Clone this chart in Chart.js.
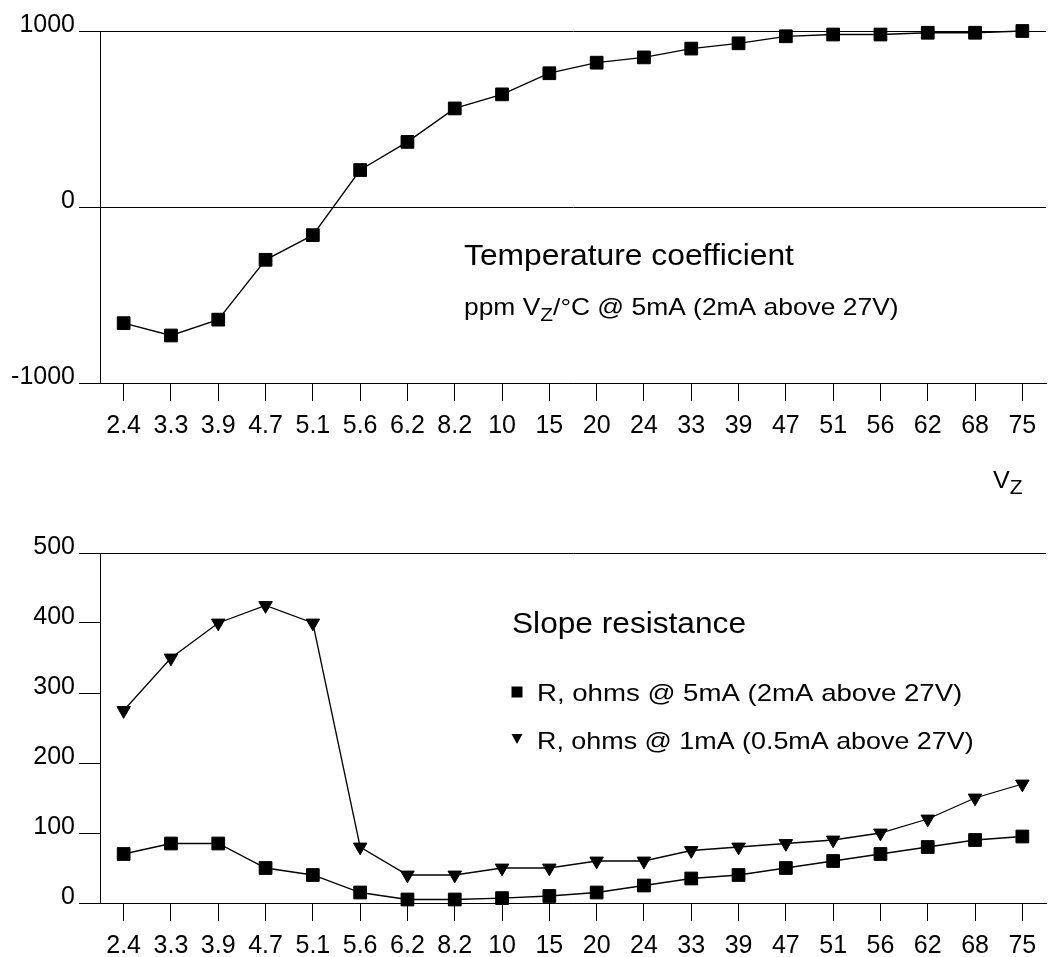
<!DOCTYPE html>
<html>
<head>
<meta charset="utf-8">
<script src="https://cdn.jsdelivr.net/npm/chart.js@4.4.1/dist/chart.umd.min.js"></script>
<style>
html, body { margin: 0; padding: 0; background: #fff; }
#wrap { position: relative; width: 1062px; height: 957px; }
canvas { position: absolute; left: 0; }
#tcChart { top: 0; }
#srChart { top: 500px; }
</style>
</head>
<body>
<div id="wrap">
  <canvas id="tcChart" width="1062" height="500"></canvas>
  <canvas id="srChart" width="1062" height="457"></canvas>
</div>
<script>
const categories = ['2.4', '3.3', '3.9', '4.7', '5.1', '5.6', '6.2', '8.2', '10', '15',
                    '20', '24', '33', '39', '47', '51', '56', '62', '68', '75'];

// temperature coefficient, ppm Vz/°C
const tempCoeff = [-660, -730, -640, -300, -160, 210, 370, 560, 640, 760,
                   820, 850, 900, 930, 970, 980, 980, 990, 990, 1000];

// slope resistance, ohms
const slope5mA = [70, 85, 85, 50, 40, 15, 5, 5, 7, 10,
                  15, 25, 35, 40, 50, 60, 70, 80, 90, 95];
const slope1mA = [275, 350, 400, 425, 400, 80, 40, 40, 50, 50,
                  60, 60, 75, 80, 85, 90, 100, 120, 150, 170];

const tcTicks = [-1000, 0, 1000];
const srTicks = [0, 100, 200, 300, 400, 500];

const FONT = '"Liberation Sans", Arial, Helvetica, sans-serif';

Chart.defaults.font.family = FONT;
Chart.defaults.color = '#000';

// draw text a little wider, like the original artwork
function wideText(ctx, text, x, y, size, sx) {
    ctx.save();
    ctx.font = size + 'px ' + FONT;
    ctx.translate(x, y);
    ctx.scale(sx, 1);
    ctx.fillText(text, 0, 0);
    const w = ctx.measureText(text).width * sx;
    ctx.restore();
    return w;
}

function xScale(height, padding) {
    return {
        type: 'category',
        offset: true,
        afterFit: (scale) => { scale.height = height; },
        grid: {
            offset: false,
            drawOnChartArea: false,
            drawTicks: true,
            tickLength: 18,
            tickColor: '#000',
            lineWidth: 1
        },
        border: { display: true, color: '#000', width: 1 },
        ticks: {
            color: '#000',
            padding: padding,
            maxRotation: 0,
            autoSkip: false,
            font: { size: 25 }
        }
    };
}

function yScale(min, max, tickValues, fullLines) {
    return {
        min: min,
        max: max,
        afterFit: (scale) => { scale.width = 100; },
        afterBuildTicks: (scale) => {
            scale.ticks = tickValues.map(v => ({ value: v }));
        },
        grid: {
            drawTicks: true,
            tickLength: 21,
            tickColor: '#000',
            lineWidth: 1,
            color: (ctx) => fullLines.includes(ctx.tick && ctx.tick.value) ? '#000' : 'rgba(0,0,0,0)'
        },
        border: { display: true, color: '#000', width: 1 },
        ticks: {
            color: '#000',
            padding: 4,
            labelOffset: -6,
            font: { size: 25 },
            callback: (value) => String(value)
        }
    };
}

const tcLabels = {
    id: 'tcLabels',
    afterDraw(chart) {
        const ctx = chart.ctx;
        ctx.save();
        ctx.fillStyle = '#000';
        ctx.textBaseline = 'alphabetic';
        ctx.textAlign = 'left';
        wideText(ctx, 'Temperature coefficient', 464, 265, 30, 1.06);

        let x = 464;
        x += wideText(ctx, 'ppm V', x, 315, 24, 1.1);
        x += wideText(ctx, 'Z', x, 321, 19, 1.1);
        wideText(ctx, '/\u00B0C @ 5mA (2mA above 27V)', x, 315, 24, 1.1);

        let vx = 993;
        vx += wideText(ctx, 'V', vx, 488, 24, 1.05);
        wideText(ctx, 'Z', vx, 494, 20, 1.05);
        ctx.restore();
    }
};

const srLabels = {
    id: 'srLabels',
    afterDraw(chart) {
        const ctx = chart.ctx;
        const oy = 500;
        ctx.save();
        ctx.fillStyle = '#000';
        ctx.textBaseline = 'alphabetic';
        ctx.textAlign = 'left';
        wideText(ctx, 'Slope resistance', 512, 633 - oy, 30, 1.055);

        // legend symbols
        ctx.fillRect(511.5, 686.5 - oy, 11, 11);
        ctx.beginPath();
        ctx.moveTo(511.5, 734 - oy);
        ctx.lineTo(522.5, 734 - oy);
        ctx.lineTo(517, 744 - oy);
        ctx.closePath();
        ctx.fill();

        wideText(ctx, 'R, ohms @ 5mA (2mA above 27V)', 537, 701 - oy, 24, 1.15);
        wideText(ctx, 'R, ohms @ 1mA (0.5mA above 27V)', 537, 749 - oy, 24, 1.12);
        ctx.restore();
    }
};

function seriesStyle(style, radius, rotation) {
    return {
        borderColor: '#000',
        borderWidth: 1.3,
        backgroundColor: '#000',
        pointStyle: style,
        pointRadius: radius,
        pointRotation: rotation,
        pointBorderWidth: 1,
        pointBorderColor: '#000',
        pointBackgroundColor: '#000',
        tension: 0,
        clip: false
    };
}

new Chart(document.getElementById('tcChart'), {
    type: 'line',
    data: {
        labels: categories,
        datasets: [{
            label: 'ppm Vz/°C @ 5mA (2mA above 27V)',
            data: tempCoeff,
            ...seriesStyle('rect', 9, 0)
        }]
    },
    options: {
        responsive: false,
        animation: false,
        devicePixelRatio: 1,
        layout: { padding: { top: 31, left: 0, right: 16, bottom: 57 } },
        plugins: {
            legend: { display: false },
            tooltip: { enabled: false }
        },
        scales: {
            x: xScale(60, 10),
            y: yScale(-1000, 1000, tcTicks, [1000, 0, -1000])
        }
    },
    plugins: [tcLabels]
});

new Chart(document.getElementById('srChart'), {
    type: 'line',
    data: {
        labels: categories,
        datasets: [{
            label: 'R, ohms @ 5mA (2mA above 27V)',
            data: slope5mA,
            ...seriesStyle('rect', 9, 0)
        }, {
            label: 'R, ohms @ 1mA (0.5mA above 27V)',
            data: slope1mA,
            ...seriesStyle('triangle', 7.8, 180)
        }]
    },
    options: {
        responsive: false,
        animation: false,
        devicePixelRatio: 1,
        layout: { padding: { top: 53, left: 0, right: 16, bottom: 4 } },
        plugins: {
            legend: { display: false },
            tooltip: { enabled: false }
        },
        scales: {
            x: xScale(50, 10),
            y: yScale(0, 500, srTicks, [500, 0])
        }
    },
    plugins: [srLabels]
});
</script>
</body>
</html>
